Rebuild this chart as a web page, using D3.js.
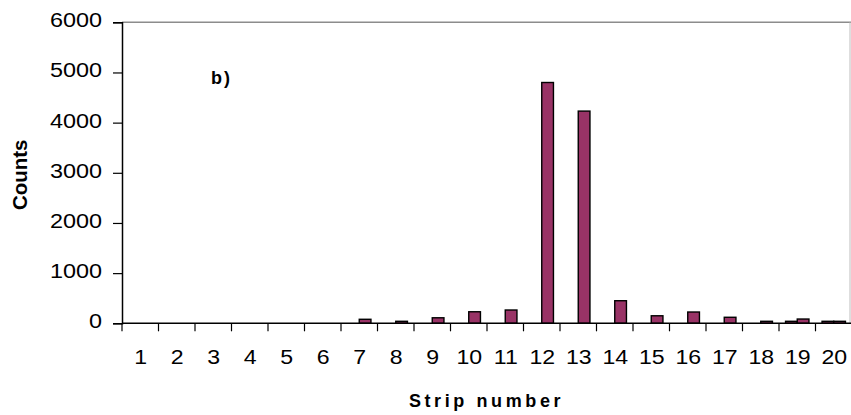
<!DOCTYPE html>
<html>
<head>
<meta charset="utf-8">
<script src="https://cdn.jsdelivr.net/npm/d3@7"></script>
<style>
  html, body { margin: 0; padding: 0; background: #fff; }
  svg { display: block; }
  text { font-family: "Liberation Sans", Arial, sans-serif; fill: #000; }
</style>
</head>
<body>
<svg id="chart" width="851" height="415"></svg>
<script>
const categories = ["1","2","3","4","5","6","7","8","9","10","11","12","13","14","15","16","17","18","19","20"];
const seriesA = [0,0,0,0,0,0,0,0,0,0,0,0,0,0,0,0,0,0,40,40];
const seriesB = [0,0,0,0,0,0,80,40,110,230,265,4800,4230,450,150,225,120,40,85,40];
const yTicks = [0,1000,2000,3000,4000,5000,6000];
const yTitle = "Counts";
const xTitle = "Strip number";
const panelLabel = "b)";

const W = 851, H = 415;
const m = {left: 122, top: 22.3, right: 0, bottom: 91.7};
const svg = d3.select("#chart");

const x = d3.scaleBand().domain(categories).range([m.left, W + 1]).paddingInner(0).paddingOuter(0);
const y = d3.scaleLinear().domain([0, 6000]).range([H - m.bottom, m.top]);
const sub = d3.scaleBand().domain(["A","B"]).range([0, 23.4]);
const subOff = (x.bandwidth() - 23.4) / 2;

// plot area border (top and right, gray)
svg.append("line").attr("x1", m.left).attr("x2", W).attr("y1", y(6000)).attr("y2", y(6000))
  .attr("stroke", "#8c8c8c").attr("stroke-width", 1.5);
svg.append("line").attr("x1", W - 1).attr("x2", W - 1).attr("y1", y(6000)).attr("y2", y(0))
  .attr("stroke", "#bdbdbd").attr("stroke-width", 1);

// bars
const data = [];
categories.forEach((c, i) => {
  if (seriesA[i] > 0) data.push({c, s: "A", v: seriesA[i]});
  if (seriesB[i] > 0) data.push({c, s: "B", v: seriesB[i]});
});
svg.append("g").selectAll("rect").data(data).join("rect")
  .attr("x", d => x(d.c) + subOff + sub(d.s))
  .attr("width", sub.bandwidth())
  .attr("y", d => y(d.v))
  .attr("height", d => y(0) - y(d.v))
  .attr("fill", "#993366")
  .attr("stroke", "#000")
  .attr("stroke-width", 1.4);

// y axis
const yAxis = d3.axisLeft(y).tickValues(yTicks).tickSize(9).tickFormat("");
const gy = svg.append("g").attr("transform", `translate(${m.left},0)`).call(yAxis);
gy.select(".domain").attr("stroke", "#000").attr("stroke-width", 1.5);
gy.selectAll(".tick line").attr("stroke", "#000").attr("stroke-width", 1.2);
svg.append("g").selectAll("text").data(yTicks).join("text")
  .attr("transform", d => `translate(102,${y(d) + 5}) scale(1.2,1)`)
  .attr("text-anchor", "end")
  .style("font-size", "19.5px")
  .text(d => d3.format("d")(d));

// x axis
svg.append("line").attr("x1", m.left).attr("x2", W).attr("y1", y(0)).attr("y2", y(0))
  .attr("stroke", "#000").attr("stroke-width", 1.5);
svg.append("g").selectAll("line").data(categories).join("line")
  .attr("x1", d => x(d)).attr("x2", d => x(d))
  .attr("y1", y(0)).attr("y2", y(0) + 8)
  .attr("stroke", "#000").attr("stroke-width", 1.2);
svg.append("g").selectAll("text").data(categories).join("text")
  .attr("transform", d => `translate(${x(d) + x.bandwidth() / 2 + 0.5},363.5) scale(1.1,1)`)
  .attr("text-anchor", "middle")
  .style("font-size", "21px")
  .text(d => d);

// titles
svg.append("text").attr("transform", `translate(27,${(y(0) + y(6000)) / 2 + 2}) rotate(-90)`)
  .attr("text-anchor", "middle").style("font-size", "20.5px").style("font-weight", "bold").text(yTitle);
svg.append("text").attr("x", (m.left + W) / 2).attr("y", 407)
  .attr("text-anchor", "middle").style("font-size", "18px").style("font-weight", "bold")
  .style("letter-spacing", "3.6px").text(xTitle);
svg.append("text").attr("x", 211).attr("y", 84)
  .style("font-size", "18px").style("font-weight", "bold").style("letter-spacing", "2px").text(panelLabel);
</script>
</body>
</html>
